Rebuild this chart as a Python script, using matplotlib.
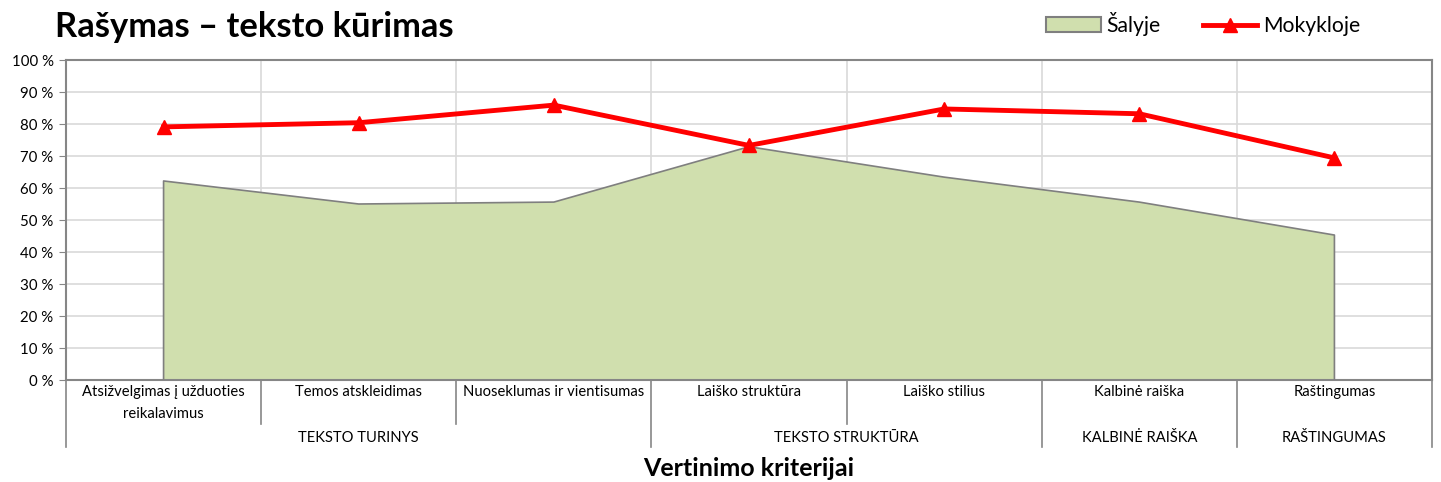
import matplotlib.pyplot as plt
from matplotlib.patches import Patch
from matplotlib.lines import Line2D
from matplotlib.transforms import blended_transform_factory

plt.rcParams['font.family'] = ['Lato', 'DejaVu Sans']

categories = ["Atsižvelgimas į užduoties\nreikalavimus", "Temos atskleidimas",
              "Nuoseklumas ir vientisumas", "Laiško struktūra", "Laiško stilius",
              "Kalbinė raiška", "Raštingumas"]
groups = ["TEKSTO TURINYS", "TEKSTO STRUKTŪRA", "KALBINĖ RAIŠKA", "RAŠTINGUMAS"]
group_sizes = [3, 2, 1, 1]
salyje = [62.2, 55.0, 55.6, 72.9, 63.4, 55.6, 45.3]
mokykloje = [79.1, 80.4, 85.9, 73.3, 84.7, 83.2, 69.4]

fill_col = "#D0DFAE"
axis_col = "#868686"
grid_col = "#D9D9D9"

fig = plt.figure(figsize=(14.41, 4.82), dpi=100)
ax = fig.add_axes([66 / 1441, 1 - 380 / 482, 1366 / 1441, 320 / 482])

x = list(range(len(categories)))
ax.fill_between(x, salyje, 0, facecolor=fill_col, edgecolor="none", zorder=2)
ax.plot([x[0]] + x + [x[-1]], [0] + salyje + [0], color="#7F7F7F", lw=1.2, zorder=3)
ax.plot(x, mokykloje, color="#FF0000", lw=3.5, marker="^", markersize=10, zorder=4)

ax.set_xlim(-0.5, len(categories) - 0.5)
ax.set_ylim(0, 100)
ax.set_yticks(range(0, 101, 10))
ax.set_yticklabels([f"{v} %" for v in range(0, 101, 10)], fontsize=10.8)
ax.tick_params(axis="y", length=5, color=axis_col, pad=4)
ax.set_xticks([])
ax.yaxis.grid(True, color=grid_col, lw=1.2, zorder=0)
for b in [i + 0.5 for i in x[:-1]]:
    ax.axvline(b, color=grid_col, lw=1.2, zorder=0)
for s in ["top", "right", "left", "bottom"]:
    ax.spines[s].set_color(axis_col)
    ax.spines[s].set_linewidth(1.5)

# multi-level category axis
tr = blended_transform_factory(ax.transData, ax.transAxes)
row1_bottom = -44 / 320
row2_bottom = -67 / 320
for i, lab in enumerate(categories):
    ax.text(i, -5 / 320, lab, transform=tr, ha="center", va="top",
            fontsize=10.6, linespacing=1.75)
group_edges = [-0.5]
for n in group_sizes:
    group_edges.append(group_edges[-1] + n)
for i in range(len(categories) + 1):
    b = i - 0.5
    bottom = row2_bottom if b in group_edges else row1_bottom
    ax.plot([b, b], [0, bottom], transform=tr, color=axis_col, lw=1.2, clip_on=False)
for g, lo, hi in zip(groups, group_edges[:-1], group_edges[1:]):
    ax.text((lo + hi) / 2, -58 / 320, g, transform=tr, ha="center", va="center",
            fontsize=10.6)

ax.text(0.5, -88 / 320, "Vertinimo kriterijai", transform=ax.transAxes,
        ha="center", va="center", fontsize=18, fontweight="bold")
fig.text(55 / 1441, 1 - 27 / 482, "Rašymas – teksto kūrimas", ha="left",
         va="center", fontsize=24.8, fontweight="bold")

handles = [Patch(facecolor=fill_col, edgecolor="#7F7F7F", lw=1.5),
           Line2D([0], [0], color="#FF0000", lw=3.5, marker="^", markersize=10)]
fig.legend(handles, ["Šalyje", "Mokykloje"], loc="center right",
           bbox_to_anchor=(1360 / 1441, 1 - 24 / 482), ncol=2, frameon=False,
           fontsize=15.2, handlelength=2.6, handletextpad=0.25, columnspacing=2.0,
           borderpad=0, borderaxespad=0)

fig.savefig("out.png", dpi=100)
